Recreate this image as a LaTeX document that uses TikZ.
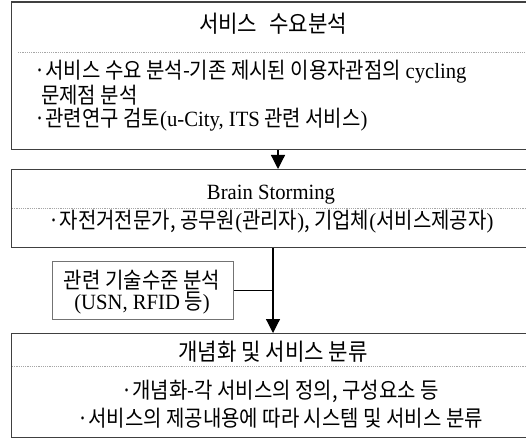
\documentclass[tikz,border=0pt]{standalone}
\usepackage{fontspec}
\setmainfont{Noto Sans CJK KR}[FakeStretch=0.9]
\newfontfamily\lat{Liberation Serif}[Scale=0.98,FakeStretch=0.95]
\usetikzlibrary{arrows.meta}
\begin{document}
\begin{tikzpicture}[x=1pt,y=-1pt,
  box/.style={draw=black!75, line width=1.2pt, inner sep=0pt, anchor=north west},
  sbox/.style={draw=black!55, line width=1.4pt, inner sep=0pt, anchor=north west},
  sep/.style={draw=black!35, line width=0.7pt, dash pattern=on 1.2pt off 1pt},
  conn/.style={draw=black, line width=1.2pt},
  arr/.style={conn, -{Triangle[width=14pt,length=14pt]}},
  title/.style={inner sep=0pt, font=\fontsize{23.5}{26}\selectfont},
  txt/.style={inner sep=0pt, font=\fontsize{22.2}{22.5}\selectfont}]
\useasboundingbox (0,0) rectangle (526,438);
\node[box, minimum width=517pt, minimum height=147.5pt] (b1) at (11,1.5) {};
\node[box, minimum width=517pt, minimum height=78pt] (b2) at (11,169) {};
\node[sbox, minimum width=181pt, minimum height=58pt] (s) at (52,261) {};
\node[box, minimum width=517pt, minimum height=104pt] (b3) at (11,333) {};
\coordinate (d1) at (18,52);
\coordinate (d2) at (12,208);
\coordinate (d3) at (12,366);
\draw[sep] (d1) -- (d1 -| b1.east);
\draw[sep] (d2) -- (d2 -| b2.east);
\draw[sep] (d3) -- (d3 -| b3.east);
\coordinate (a1) at (278,0);
\coordinate (a2) at (273,0);
\draw[arr] (b1.south -| a1) -- (b2.north -| a1);
\draw[arr] (b2.south -| a2) -- (b3.north -| a2);
\draw[conn] (s.east) -- (s.east -| a2);
\node[title] (t1) at (273,24) {서비스\hspace{7pt} 수요분석};
\node[txt, anchor=west, align=left] (t1a) at (34,95.5) {·서비스 수요 분석-기존 제시된 이용자관점의 {\lat cycling}\\[0.5pt]
  \hspace{7pt}문제점 분석\\[0.5pt]
  ·관련연구 검토{\lat (u-City, ITS} 관련 서비스{\lat )}};
\node[txt] (t2) at (271,195) {\lat Brain Storming};
\node[txt] (t2a) at (271,222) {·자전거전문가, 공무원{\lat (}관리자{\lat )}, 기업체{\lat (}서비스제공자{\lat )}};
\node[txt, align=center, font=\fontsize{22.2}{21}\selectfont] (t3) at (142,292.5) {관련 기술수준 분석\\{\lat (USN, RFID} 등{\lat )}};
\node[title] (t4) at (273,352) {개념화 및 서비스 분류};
\node[txt, align=center, font=\fontsize{22.2}{28}\selectfont] (t4a) at (280,404) {·개념화-각 서비스의 정의, 구성요소 등\\·서비스의 제공내용에 따라 시스템 및 서비스 분류};
\end{tikzpicture}
\end{document}
